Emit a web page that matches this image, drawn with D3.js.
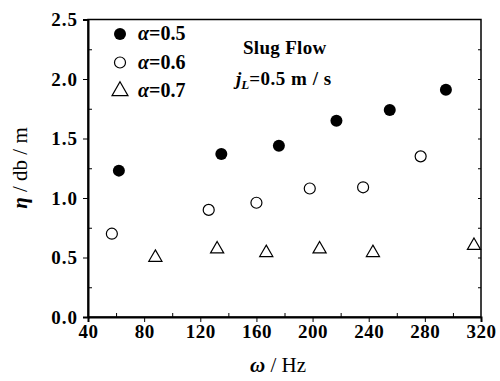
<!DOCTYPE html>
<html>
<head>
<meta charset="utf-8">
<script src="https://cdn.jsdelivr.net/npm/d3@7"></script>
<style>
  body { margin: 0; background: #fff; }
</style>
</head>
<body>
<div id="chart"></div>
<script>
// data
const freq05 = [62, 135, 176, 217, 255, 295];
const eta05 = [1.23, 1.37, 1.44, 1.65, 1.74, 1.91];
const freq06 = [57, 126, 160, 198, 236, 277];
const eta06 = [0.70, 0.90, 0.96, 1.08, 1.09, 1.35];
const freq07 = [88, 132, 167, 205, 243, 315];
const eta07 = [0.50, 0.57, 0.54, 0.57, 0.54, 0.60];
const xTicks = [40, 80, 120, 160, 200, 240, 280, 320];
const yTicks = [0.0, 0.5, 1.0, 1.5, 2.0, 2.5];
const seriesNames = ['0.5', '0.6', '0.7'];

const serif = "'Liberation Serif', 'Times New Roman', 'DejaVu Serif', serif";
const width = 500;
const height = 381;
const margin = { top: 19.5, right: 19, bottom: 64, left: 88 };

const svg = d3
  .select('#chart')
  .append('svg')
  .attr('width', width)
  .attr('height', height);

const x = d3.scaleLinear().domain([40, 320]).range([margin.left, width - margin.right]);
const y = d3.scaleLinear().domain([0, 2.5]).range([height - margin.bottom, margin.top]);

/* frame */
svg.append('rect')
  .attr('x', x(40)).attr('y', y(2.5))
  .attr('width', x(320) - x(40)).attr('height', y(0) - y(2.5))
  .attr('fill', 'none').attr('stroke', '#000').attr('stroke-width', 1.5);

/* axes: major ticks outward, minor ticks inward */
const xAxis = svg.append('g')
  .attr('transform', `translate(0, ${y(0)})`)
  .call(d3.axisBottom(x).tickValues(xTicks).tickSize(5).tickPadding(3).tickFormat(d3.format('d')));
xAxis.select('.domain').attr('stroke-width', 2);
xAxis.selectAll('text').style('font-size', '19px').style('font-weight', 'bold').style('letter-spacing', '0.5px');

svg.append('g')
  .attr('transform', `translate(0, ${y(0)})`)
  .call(d3.axisTop(x).tickValues(d3.range(60, 320, 40)).tickSize(4).tickFormat(''))
  .call(g => g.select('.domain').remove());

const yAxis = svg.append('g')
  .attr('transform', `translate(${x(40)}, 0)`)
  .call(d3.axisLeft(y).tickValues(yTicks).tickSize(5).tickPadding(5).tickFormat(d3.format('.1f')));
yAxis.select('.domain').attr('stroke-width', 2);
yAxis.selectAll('text').style('font-size', '19px').style('font-weight', 'bold').style('letter-spacing', '1px');

svg.append('g')
  .attr('transform', `translate(${x(40)}, 0)`)
  .call(d3.axisRight(y).tickValues(d3.range(0.25, 2.5, 0.5)).tickSize(4).tickFormat(''))
  .call(g => g.select('.domain').remove());

svg.append('g')
  .attr('transform', `translate(${x(320)}, 0)`)
  .call(d3.axisLeft(y).tickValues(d3.range(0.25, 2.5, 0.25)).tickSize(3).tickFormat(''))
  .call(g => g.select('.domain').remove());

/* axis titles */
const xt = svg.append('text')
  .attr('x', 278).attr('y', 372)
  .attr('text-anchor', 'middle')
  .style('font-size', '21px');
xt.append('tspan').style('font-style', 'italic').style('font-weight', 'bold').text('ω');
xt.append('tspan').text(' / Hz');

const yt = svg.append('text')
  .attr('transform', 'translate(27, 168) rotate(-90)')
  .attr('text-anchor', 'middle')
  .style('font-size', '21px');
yt.append('tspan').style('font-style', 'italic').style('font-weight', 'bold').text('η');
yt.append('tspan').text(' / db / m');

/* markers */
const pts05 = freq05.map((f, i) => ({ f, v: eta05[i] }));
const pts06 = freq06.map((f, i) => ({ f, v: eta06[i] }));
const pts07 = freq07.map((f, i) => ({ f, v: eta07[i] }));
const tri = d3.symbol().type(d3.symbolTriangle).size(75);

svg.append('g').selectAll('circle')
  .data(pts05).enter().append('circle')
  .attr('cx', d => x(d.f)).attr('cy', d => y(d.v))
  .attr('r', 6).attr('fill', '#000');

svg.append('g').selectAll('circle')
  .data(pts06).enter().append('circle')
  .attr('cx', d => x(d.f)).attr('cy', d => y(d.v))
  .attr('r', 5.5).attr('fill', '#fff').attr('stroke', '#000').attr('stroke-width', 1.2);

svg.append('g').selectAll('path')
  .data(pts07).enter().append('path')
  .attr('d', tri)
  .attr('transform', d => `translate(${x(d.f)}, ${y(d.v)})`)
  .attr('fill', '#fff').attr('stroke', '#000').attr('stroke-width', 1.2);

/* legend */
const legend = svg.append('g').selectAll('g')
  .data(seriesNames).enter().append('g')
  .attr('transform', (d, i) => `translate(120, ${34 + i * 28.5})`);

legend.each(function(d, i) {
  const g = d3.select(this);
  if (i === 0) g.append('circle').attr('r', 6).attr('fill', '#000');
  if (i === 1) g.append('circle').attr('r', 5.5).attr('fill', '#fff').attr('stroke', '#000').attr('stroke-width', 1.2);
  if (i === 2) g.append('path').attr('d', d3.symbol().type(d3.symbolTriangle).size(110)).attr('fill', '#fff').attr('stroke', '#000').attr('stroke-width', 1.2);
  const t = g.append('text').attr('x', 18).attr('y', 6).style('font-size', '20px');
  t.append('tspan').style('font-style', 'italic').style('font-weight', 'bold').text('α');
  t.append('tspan').style('font-weight', 'bold').text('=' + d);
});

/* annotation */
svg.append('text')
  .attr('x', 243).attr('y', 54)
  .style('font-size', '19px').style('font-weight', 'bold').style('letter-spacing', '0.3px')
  .text('Slug Flow');

const ann = svg.append('text')
  .attr('x', 236).attr('y', 85)
  .style('font-size', '19px').style('font-weight', 'bold');
ann.append('tspan').style('font-style', 'italic').text('j');
ann.append('tspan').style('font-style', 'italic').style('font-size', '13px').attr('dy', 4).text('L');
ann.append('tspan').attr('dy', -4).style('letter-spacing', '0.5px').text('=0.5 m / s');

// serif everywhere, set inline so the axis font-family attribute is overridden
svg.selectAll('text').style('font-family', serif).attr('fill', '#000');
</script>
</body>
</html>
